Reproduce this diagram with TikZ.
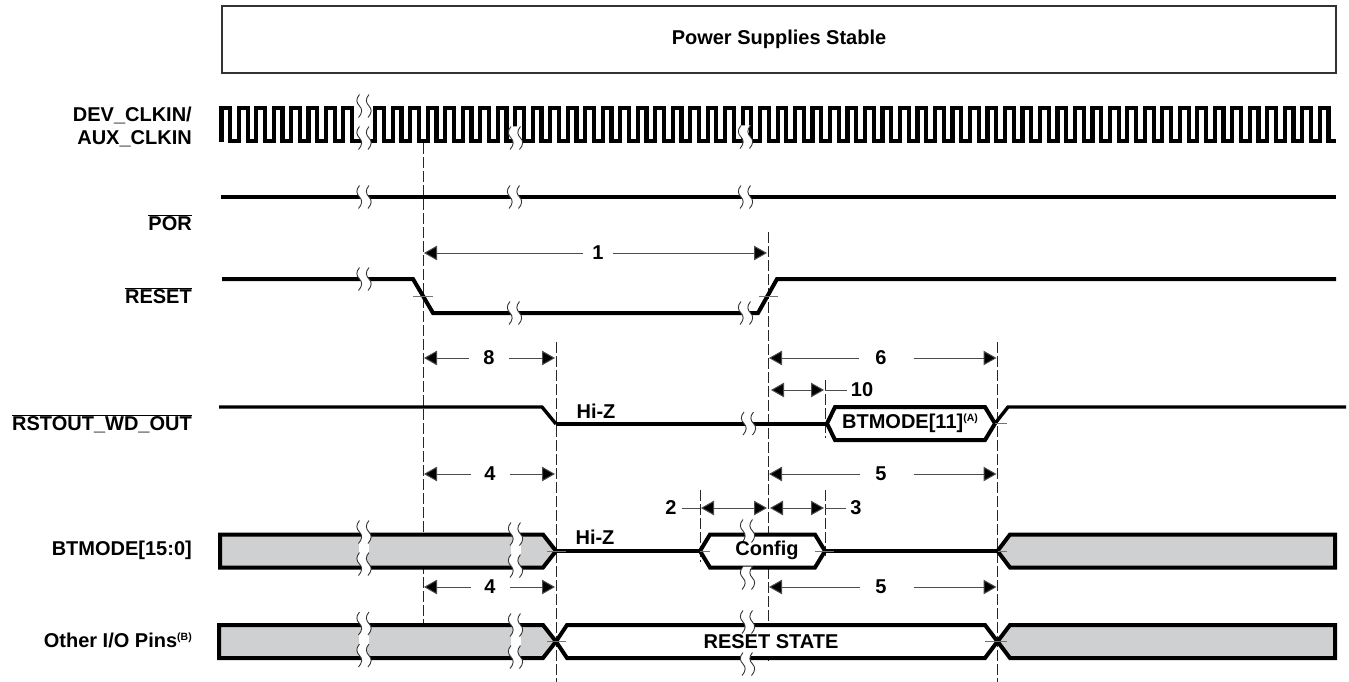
\documentclass[tikz,border=0pt]{standalone}
\usepackage{fontspec}
\setmainfont{Liberation Sans}
\usepackage{xcolor}
\usepackage{tikz}
\usetikzlibrary{arrows.meta}
\definecolor{barfill}{HTML}{CFD0D2}
\newcommand{\supnote}[1]{\raisebox{7pt}{\fontsize{10.5}{12}\selectfont #1}}
\newcommand{\barred}[1]{$\overline{\mbox{#1}}$}

\begin{document}
\begin{tikzpicture}[x=1pt, y=-1pt,
    sigline/.style={black, line width=4pt, line join=miter},
    clockline/.style={black, line width=4.2pt, line join=miter},
    busbar/.style={sigline, fill=barfill},
    busopen/.style={sigline, fill=white},
    timemark/.style={black!85, line width=0.9pt, dash pattern=on 11pt off 3pt},
    crossmark/.style={black!55, line width=1pt},
    siglabel/.style={font=\fontsize{20}{23}\bfseries\selectfont, anchor=east, inner sep=0pt, align=right},
    wavetext/.style={font=\fontsize{20}{23}\bfseries\selectfont, inner sep=0pt},
    dimlabel/.style={font=\fontsize{20}{23}\bfseries\selectfont, inner sep=0pt},
    dimthin/.style={black!70, line width=1pt},
    dimtip/.style={dimthin, -{Triangle[length=13pt, width=14.5pt, fill=black]}, shorten >=1pt},
    dimboth/.style={dimthin, {Triangle[length=13pt, width=14.5pt, fill=black]}-{Triangle[length=13pt, width=14.5pt, fill=black]}, shorten >=1pt, shorten <=1pt},
    brk/.pic={
      \fill[white] (0,-11.5) .. controls (-4,-7) and (-3,-3) .. (0,0) .. controls (3,3) and (3,7) .. (-1,11.5)
        -- (8.5,11.5) .. controls (12.5,7) and (12.5,3) .. (9.5,0) .. controls (6.5,-3) and (5.5,-7) .. (9.5,-11.5) -- cycle;
      \draw[black!80, line width=0.9pt] (0,-11.5) .. controls (-4,-7) and (-3,-3) .. (0,0) .. controls (3,3) and (3,7) .. (-1,11.5);
      \draw[black!80, line width=0.9pt] (9.5,-11.5) .. controls (5.5,-7) and (6.5,-3) .. (9.5,0) .. controls (12.5,3) and (12.5,7) .. (8.5,11.5);
    },
    brktwo/.pic={
      \fill[white] (-0.5,-5) rectangle (9.5,5);
      \pic at (0,-16) {brk};
      \pic at (0,16) {brk};
    }]
  \useasboundingbox (0,0) rectangle (1349,682);

  % time marks
  \coordinate (t1) at (423,0);
  \coordinate (t2) at (768,0);
  \coordinate (t3) at (556,0);
  \coordinate (t4) at (997.5,0);
  \coordinate (t5) at (825,0);
  \coordinate (t6) at (700,0);
  \draw[timemark] (423,143) -- (423,661);
  \draw[timemark] (768,232) -- (768,661);
  \draw[timemark] (556,342) -- (556,682);
  \draw[timemark] (997.5,342) -- (997.5,682);
  \draw[timemark] (825,380) -- (825,438);
  \draw[timemark] (825,490) -- (825,556);
  \draw[timemark] (700,490) -- (700,562);

  % supplies
  \node[draw=black!80, line width=1.5pt, minimum width=1114pt, minimum height=67pt, inner sep=0pt, font=\fontsize{20}{23}\bfseries\selectfont] (supply) at (779,39.5) {Power Supplies Stable};

  % clock
  \draw[clockline] (221.5,142)
    foreach \k in {0,...,7} {
      -- ({221.5+17.4*\k},108) -- ({221.5+17.4*(\k+0.5)},108)
      -- ({221.5+17.4*(\k+0.5)},141) -- ({221.5+17.4*(\k+1)},141) };
  \draw[clockline] (367,141)
    foreach \k in {1,...,55} {
      -- ({357.86+17.489*\k},141) -- ({357.86+17.489*\k},108)
      -- ({357.86+17.489*(\k+0.5)},108) -- ({357.86+17.489*(\k+0.5)},141) }
    -- (1336,141);

  % POR and RESET
  \draw[sigline] (221,197) -- (1336,197);
  \draw[sigline] (222,279) -- (413,279) -- (433,313) -- (758,313) -- (777,279) -- (1336,279);
  \draw[crossmark] (413,296) -- (433,296);
  \draw[crossmark] (759,296) -- (778,296);

  % RSTOUT
  \draw[sigline, line width=3.4pt] (219,407) -- (542,407) -- (556,424);
  \draw[sigline] (556,424) -- (827,424);
  \draw[busopen] (827,423.5) -- (835,407) -- (985,407) -- (995,423.5) -- (985,440) -- (835,440) -- cycle;
  \draw[sigline, line width=3.4pt] (995,423.5) -- (1008,407) -- (1346,407);
  \draw[crossmark] (995,423.5) -- (1007,423.5);

  % BTMODE bus
  \draw[sigline] (556,551) -- (700,551);
  \draw[sigline] (825,551) -- (998,551);
  \draw[busbar] (220,534.5) -- (543,534.5) -- (556,551) -- (543,567.5) -- (220,567.5) -- cycle;
  \draw[busopen] (700,551) -- (710,534.5) -- (815,534.5) -- (825,551) -- (815,567.5) -- (710,567.5) -- cycle;
  \draw[busbar] (1335,534.5) -- (1010,534.5) -- (997.5,551) -- (1010,567.5) -- (1335,567.5) -- cycle;
  \draw[crossmark] (547,551) -- (566,551);
  \draw[crossmark] (700,551) -- (710,551);
  \draw[crossmark] (815,551) -- (834,551);
  \draw[crossmark] (997.5,551) -- (1007,551);

  % other pins
  \draw[busbar] (219,625) -- (543,625) -- (556,641.5) -- (543,658) -- (219,658) -- cycle;
  \draw[busopen] (556,641.5) -- (567,625) -- (985,625) -- (997.5,641.5) -- (985,658) -- (567,658) -- cycle;
  \draw[busbar] (1335,625) -- (1010,625) -- (997.5,641.5) -- (1010,658) -- (1335,658) -- cycle;
  \draw[crossmark] (547,641.5) -- (566,641.5);
  \draw[crossmark] (985,641.5) -- (1007,641.5);

  % breaks
  \pic at (359.5,122) {brktwo};
  \pic at (511,138) {brk};
  \pic at (741,137) {brk};
  \pic at (359.5,197) {brk};
  \pic at (510,197) {brk};
  \pic at (741,197) {brk};
  \pic at (359.5,279) {brk};
  \pic at (510,313) {brk};
  \pic at (741,313) {brk};
  \pic at (744,423.5) {brk};
  \pic at (359.5,548) {brktwo};
  \pic at (511,550) {brktwo};
  \pic at (359.5,639.5) {brktwo};
  \pic at (511,641) {brktwo};
  \pic at (743,531) {brk};
  \pic at (743,578) {brk};
  \pic at (743,622) {brk};
  \pic at (743,664) {brk};

  % dimensions
  \node[dimlabel] (d1) at (598,253) {1};
  \draw[dimtip, shorten <=9pt] (d1.west) -- (d1.west -| t1);
  \draw[dimtip, shorten <=9pt] (d1.east) -- (d1.east -| t2);
  \node[dimlabel] (d8) at (489,358) {8};
  \draw[dimtip, shorten <=14pt] (d8.west) -- (d8.west -| t1);
  \draw[dimtip, shorten <=14pt] (d8.east) -- (d8.east -| t3);
  \node[dimlabel] (d6) at (881,358) {6};
  \draw[dimtip, shorten <=16pt] (d6.west) -- (d6.west -| t2);
  \draw[dimtip, shorten <=27pt] (d6.east) -- (d6.east -| t4);
  \node[dimlabel] (d10) at (862,390) {10};
  \coordinate (a10) at (770,390);
  \coordinate (b10) at (825,390);
  \draw[dimboth] (a10) -- (b10);
  \draw[dimthin, shorten >=4pt] (b10) -- (d10.west);
  \node[dimlabel] (d4a) at (490,474) {4};
  \draw[dimtip, shorten <=13pt] (d4a.west) -- (d4a.west -| t1);
  \draw[dimtip, shorten <=14pt] (d4a.east) -- (d4a.east -| t3);
  \node[dimlabel] (d5a) at (881,474) {5};
  \draw[dimtip, shorten <=15pt] (d5a.west) -- (d5a.west -| t2);
  \draw[dimtip, shorten <=27pt] (d5a.east) -- (d5a.east -| t4);
  \node[dimlabel] (d2) at (671,508) {2};
  \coordinate (a2) at (700,508);
  \coordinate (b2) at (768,508);
  \draw[dimboth] (a2) -- (b2);
  \draw[dimthin, shorten <=5pt] (d2.east) -- (a2);
  \node[dimlabel] (d3) at (856,508) {3};
  \coordinate (a3) at (769,508);
  \coordinate (b3) at (825,508);
  \draw[dimboth] (a3) -- (b3);
  \draw[dimthin, shorten >=4pt] (b3) -- (d3.west);
  \node[dimlabel] (d4b) at (490,587) {4};
  \draw[dimtip, shorten <=13pt] (d4b.west) -- (d4b.west -| t1);
  \draw[dimtip, shorten <=14pt] (d4b.east) -- (d4b.east -| t3);
  \node[dimlabel] (d5b) at (881,587) {5};
  \draw[dimtip, shorten <=15pt] (d5b.west) -- (d5b.west -| t2);
  \draw[dimtip, shorten <=27pt] (d5b.east) -- (d5b.east -| t4);

  % wave texts
  \node[wavetext] (hiza) at (596,411) {Hi-Z};
  \node[wavetext] (hizb) at (595,537) {Hi-Z};
  \node[wavetext] (btmode) at (910,423.5) {BTMODE[11]\supnote{(A)}};
  \node[wavetext] (config) at (767,550.5) {Config};
  \node[wavetext] (rstate) at (771,641.5) {RESET STATE};

  % signal names
  \node[siglabel] (clk) at (192,126.5) {DEV\_CLKIN/\\AUX\_CLKIN};
  \node[siglabel] (por) at (192,223) {\barred{POR}};
  \node[siglabel] (rst) at (192,296) {\barred{RESET}};
  \node[siglabel] (rstout) at (192,424) {\barred{RSTOUT\_WD\_OUT}};
  \node[siglabel] (bus) at (192,550) {BTMODE[15:0]};
  \node[siglabel] (pins) at (192,640) {Other I/O Pins\supnote{(B)}};
\end{tikzpicture}
\end{document}
